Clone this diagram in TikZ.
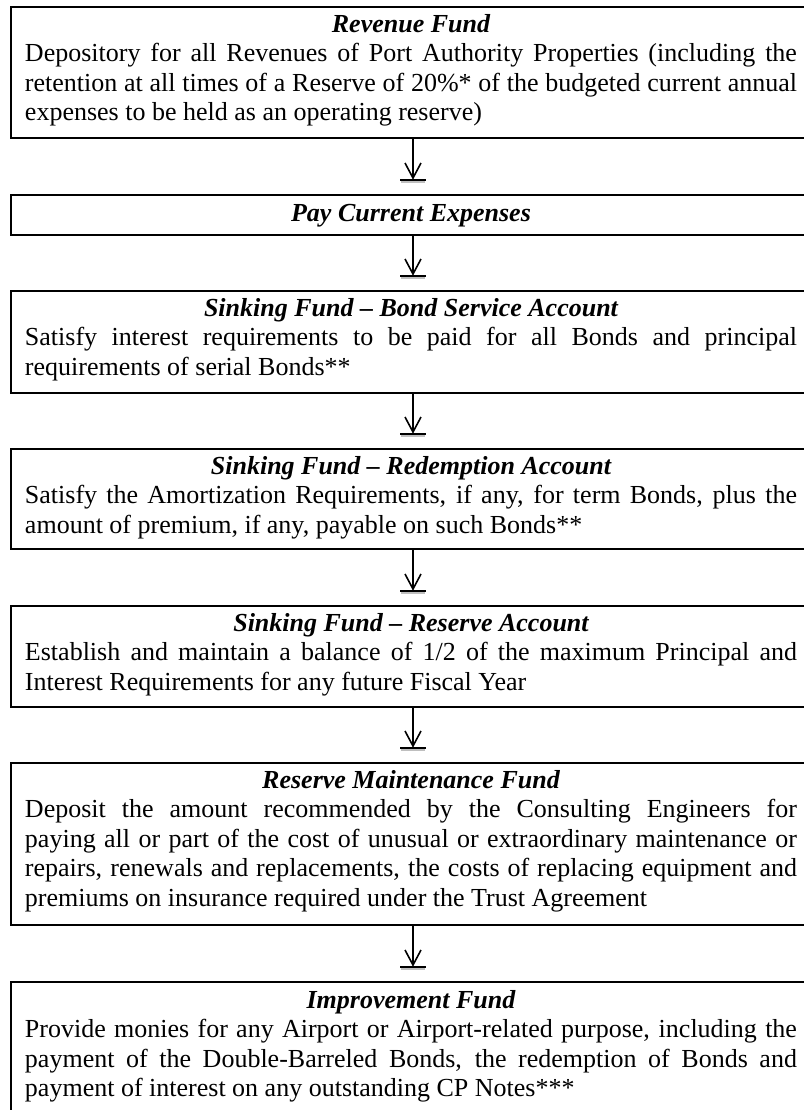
\documentclass[tikz,border=0pt]{standalone}
\usepackage{fontspec}
\setmainfont{Liberation Serif}
\newcommand\boxtitle[1]{\makebox[\hsize]{\bfseries\itshape #1}}
\tikzset{
  fundbox/.style={draw, line width=1.1pt, inner sep=0pt, outer sep=0pt,
    minimum width=400pt, anchor=north west},
  fundtext/.style={inner sep=0pt, outer sep=0pt, text width=386pt, align=justify,
    anchor=north west, font=\fontsize{13}{14.8}\selectfont},
  flow/.style={line width=0.8pt},
  flowshadow/.style={line width=0.9pt, black!25},
}
\begin{document}
\begin{tikzpicture}[x=0.5pt,y=-0.5pt]
\useasboundingbox (0,0) rectangle (804,1110);
\clip (0,0) rectangle (804,1110);

% boxes
\node[fundbox, minimum height=65.5pt] (b1) at (11,7) {};
\node[fundbox, minimum height=20pt]   (b2) at (11,195) {};
\node[fundbox, minimum height=51pt]   (b3) at (11,291) {};
\node[fundbox, minimum height=50pt]   (b4) at (11,449) {};
\node[fundbox, minimum height=50.5pt] (b5) at (11,606) {};
\node[fundbox, minimum height=81pt]   (b6) at (11,763) {};
\node[fundbox, minimum height=66pt]   (b7) at (11,982) {};

% texts
\node[fundtext] (t1) at (25,8) {\rule{0pt}{12pt}\boxtitle{Revenue Fund}\par
Depository for all Revenues of Port Authority Properties (including the\linebreak
retention at all times of a Reserve of 20\%* of the budgeted current annual\linebreak
expenses to be held as an operating reserve)};

\node[fundtext] (t2) at (25,197) {\rule{0pt}{12pt}\boxtitle{Pay Current Expenses}};

\node[fundtext] (t3) at (25,292) {\rule{0pt}{12pt}\boxtitle{Sinking Fund – Bond Service Account}\par
Satisfy interest requirements to be paid for all Bonds and principal\linebreak
requirements of serial Bonds**};

\node[fundtext] (t4) at (25,450) {\rule{0pt}{12pt}\boxtitle{Sinking Fund – Redemption Account}\par
Satisfy the Amortization Requirements, if any, for term Bonds, plus the\linebreak
amount of premium, if any, payable on such Bonds**};

\node[fundtext] (t5) at (25,607) {\rule{0pt}{12pt}\boxtitle{Sinking Fund – Reserve Account}\par
Establish and maintain a balance of 1/2 of the maximum Principal and\linebreak
Interest Requirements for any future Fiscal Year};

\node[fundtext] (t6) at (25,764) {\rule{0pt}{12pt}\boxtitle{Reserve Maintenance Fund}\par
Deposit the amount recommended by the Consulting Engineers for\linebreak
paying all or part of the cost of unusual or extraordinary maintenance or\linebreak
repairs, renewals and replacements, the costs of replacing equipment and\linebreak
premiums on insurance required under the Trust Agreement};

\node[fundtext] (t7) at (25,984) {\rule{0pt}{12pt}\boxtitle{Improvement Fund}\par
Provide monies for any Airport or Airport-related purpose, including the\linebreak
payment of the Double-Barreled Bonds, the redemption of Bonds and\linebreak
payment of interest on any outstanding CP Notes***};

% arrows
\foreach \a/\b in {b1/b2,b2/b3,b3/b4,b4/b5,b5/b6,b6/b7}{
  \draw[flow] ([xshift=1pt]\a.south) -- ([xshift=1pt,yshift=8.5pt]\b.north);
  \draw[flow] ([xshift=-3pt,yshift=16pt]\b.north) -- ([xshift=1pt,yshift=8.5pt]\b.north)
              -- ([xshift=5pt,yshift=16pt]\b.north);
  \draw[flowshadow] ([xshift=-5pt,yshift=6.6pt]\b.north) -- ([xshift=7pt,yshift=6.6pt]\b.north);
  \draw[flow] ([xshift=-5.5pt,yshift=7.5pt]\b.north) -- ([xshift=7.5pt,yshift=7.5pt]\b.north);
}
\end{tikzpicture}
\end{document}
